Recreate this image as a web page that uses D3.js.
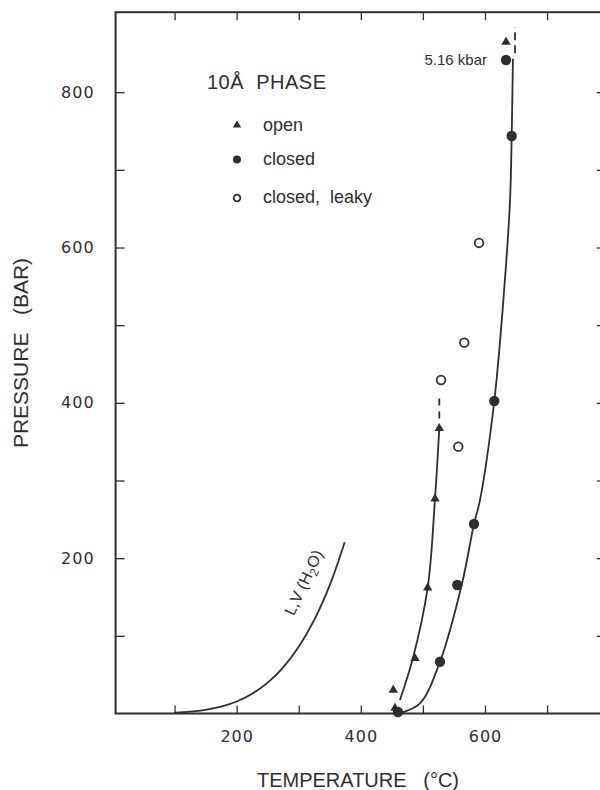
<!DOCTYPE html>
<html>
<head>
<meta charset="utf-8">
<script src="https://cdn.jsdelivr.net/npm/d3@7"></script>
<style>
  body { margin: 0; background: #fff; }
  text { fill: #2e2e2e; font-family: "Liberation Sans", Arial, sans-serif; }
</style>
</head>
<body>
<svg id="chart" width="600" height="790"></svg>
<script>
// ---- data (temperature in deg C, pressure in bar) ----
var xTicks = [100, 200, 300, 400, 500, 600, 700];
var xLabels = [200, 400, 600];
var yTicks = [100, 200, 300, 400, 500, 600, 700, 800];
var yLabels = [200, 400, 600, 800];

// 10A phase experiments
var openT = [633.9, 526.4, 519.5, 507.7, 487.3, 452.3, 455.0];
var openP = [864.7, 367.2, 276.5, 162.0, 71.0, 30.3, 7.0];
var closedT = [633.9, 643.0, 615.0, 582.3, 555.4, 527.5, 459.9];
var closedP = [841.5, 743.6, 402.4, 244.0, 165.5, 66.7, 1.9];
var leakyT = [590.4, 529.2, 566.7, 557.0];
var leakyP = [605.9, 429.4, 477.5, 343.6];

// boundary curves
var openCurveT = [463.1, 484.5, 507.7, 519.5, 526.4];
var openCurveP = [17.4, 73.0, 162.0, 276.5, 367.2];
var openDashT = [526.4, 526.4];
var openDashP = [380, 408];
var closedCurveT = [463.1, 495.3, 527.5, 562.5, 582.3, 592.0, 615.0, 629.5, 640.3, 643.0, 645.0];
var closedCurveP = [0.6, 13.1, 66.7, 165.5, 244.0, 275.0, 402.4, 531.3, 660.0, 743.6, 843.0];
var closedDashT = [648.4, 648.4];
var closedDashP = [850, 884];

// liquid-vapour curve of H2O
var lvT = [100, 125, 150, 175, 200, 225, 250, 275, 300, 325, 350, 374];
var lvP = [1.0, 2.3, 4.8, 8.9, 15.5, 25.5, 39.7, 59.5, 85.9, 120.6, 165.3, 220.6];

var legendLabels = ["open", "closed", "closed, leaky"];

// ---- setup ----
var ink = "#2e2e2e";
var svg = d3.select("#chart");

var x = d3.scaleLinear().domain([5, 793]).range([115.6, 604.8]);
var y = d3.scaleLinear().domain([0, 903]).range([713.5, 12.2]);

function pairs(ts, ps) {
	return ts.map(function(t, i) { return [t, ps[i]]; });
}

// axes (ticks inward)
var bottom = svg.append("g")
	.attr("transform", "translate(0," + y(0) + ")")
	.call(d3.axisBottom(x).tickValues(xTicks)
		.tickFormat(function(d) { return xLabels.indexOf(d) >= 0 ? d : ""; })
		.tickSizeInner(-8).tickSizeOuter(0).tickPadding(17));

var left = svg.append("g")
	.attr("transform", "translate(" + x(5) + ",0)")
	.call(d3.axisLeft(y).tickValues(yTicks)
		.tickFormat(function(d) { return yLabels.indexOf(d) >= 0 ? d : ""; })
		.tickSizeInner(-9).tickSizeOuter(0).tickPadding(21));

svg.append("g")
	.attr("transform", "translate(0," + y(903) + ")")
	.call(d3.axisTop(x).tickValues(xTicks).tickFormat("")
		.tickSizeInner(-8).tickSizeOuter(0));

svg.append("g")
	.attr("transform", "translate(" + x(793) + ",0)")
	.call(d3.axisRight(y).tickValues(yTicks).tickFormat("")
		.tickSizeInner(-8).tickSizeOuter(0));

svg.selectAll(".domain").remove();
svg.selectAll(".tick line").attr("stroke", ink).attr("stroke-width", 1.3);
svg.selectAll(".tick text")
	.style("font-family", "'DejaVu Sans', sans-serif")
	.style("font-size", "16px")
	.style("letter-spacing", "1px")
	.attr("fill", ink);

// frame
svg.append("rect")
	.attr("x", x(5)).attr("y", y(903))
	.attr("width", x(793) - x(5)).attr("height", y(0) - y(903))
	.attr("fill", "none").attr("stroke", ink).attr("stroke-width", 2);

// curves
var line = d3.line()
	.x(function(d) { return x(d[0]); })
	.y(function(d) { return y(d[1]); })
	.curve(d3.curveCatmullRom);

function drawCurve(data, dash) {
	svg.append("path")
		.datum(data)
		.attr("d", line)
		.attr("fill", "none")
		.attr("stroke", ink)
		.attr("stroke-width", 1.8)
		.attr("stroke-dasharray", dash || null);
}

drawCurve(pairs(lvT, lvP));
drawCurve(pairs(openCurveT, openCurveP));
drawCurve(pairs(openDashT, openDashP), "7,6");
drawCurve(pairs(closedCurveT, closedCurveP));
drawCurve(pairs(closedDashT, closedDashP), "8,5");

// points
var tri = d3.symbol().type(d3.symbolTriangle).size(38);

svg.selectAll(".open")
	.data(pairs(openT, openP))
	.join("path")
	.attr("class", "open")
	.attr("d", tri)
	.attr("transform", function(d) { return "translate(" + x(d[0]) + "," + y(d[1]) + ")"; })
	.attr("fill", ink);

svg.selectAll(".closed")
	.data(pairs(closedT, closedP))
	.join("circle")
	.attr("class", "closed")
	.attr("cx", function(d) { return x(d[0]); })
	.attr("cy", function(d) { return y(d[1]); })
	.attr("r", 5.2)
	.attr("fill", ink);

svg.selectAll(".leaky")
	.data(pairs(leakyT, leakyP))
	.join("circle")
	.attr("class", "leaky")
	.attr("cx", function(d) { return x(d[0]); })
	.attr("cy", function(d) { return y(d[1]); })
	.attr("r", 4.3)
	.attr("fill", "#fff")
	.attr("stroke", ink)
	.attr("stroke-width", 1.8);

// 5.16 kbar note on the top closed point
svg.append("text")
	.attr("x", x(closedT[0]) - 19)
	.attr("y", y(closedP[0]) + 5)
	.attr("text-anchor", "end")
	.style("font-size", "15px")
	.text("5.16 kbar");

// L,V (H2O) label along the curve
var lv = svg.append("text")
	.attr("transform", "translate(" + x(292) + "," + y(125) + ") rotate(-65)")
	.style("font-size", "16px");
lv.append("tspan").text("L,V (H");
lv.append("tspan").attr("dy", 4).style("font-size", "12px").text("2");
lv.append("tspan").attr("dy", -4).text("O)");

// legend
svg.append("text")
	.attr("x", 207).attr("y", 89)
	.style("font-size", "20px")
	.style("letter-spacing", "0.5px")
	.style("white-space", "pre")
	.text("10\u00c5  PHASE");

var legendY = [128, 161.5, 200];
var lg = svg.selectAll(".legend")
	.data(legendLabels)
	.join("g")
	.attr("class", "legend")
	.attr("transform", function(d, i) { return "translate(237," + legendY[i] + ")"; });

lg.each(function(d, i) {
	var g = d3.select(this);
	if (i == 0) {
		g.append("path").attr("d", d3.symbol().type(d3.symbolTriangle).size(30))
			.attr("transform", "translate(0,-3)").attr("fill", ink);
	} else if (i == 1) {
		g.append("circle").attr("cy", -2).attr("r", 4).attr("fill", ink);
	} else {
		g.append("circle").attr("cy", -2).attr("r", 3.3)
			.attr("fill", "#fff").attr("stroke", ink).attr("stroke-width", 1.8);
	}
	g.append("text")
		.attr("x", 26).attr("y", 3)
		.style("font-size", "18px")
		.style("white-space", "pre")
		.text(i == 2 ? "closed,  leaky" : d);
});

// axis titles
svg.append("text")
	.attr("x", 358).attr("y", 787)
	.attr("text-anchor", "middle")
	.style("font-size", "20px")
	.style("white-space", "pre")
	.text("TEMPERATURE   (\u00b0C)");

svg.append("text")
	.attr("transform", "translate(28,353) rotate(-90)")
	.attr("text-anchor", "middle")
	.style("font-size", "21px")
	.style("white-space", "pre")
	.text("PRESSURE   (BAR)");
</script>
</body>
</html>
